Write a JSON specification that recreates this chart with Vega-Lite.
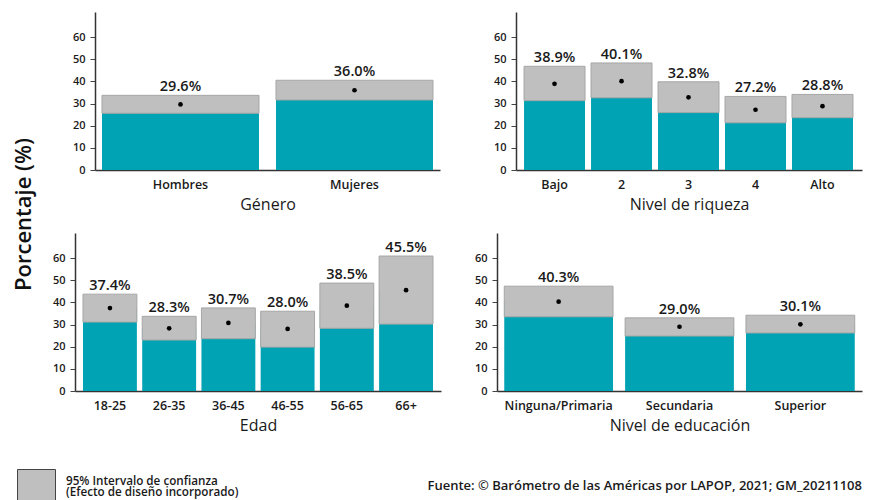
{
  "$schema": "https://vega.github.io/schema/vega-lite/v6.json",
  "background": "white",
  "padding": {"left": 12, "top": 12, "right": 6, "bottom": 0},
  "bounds": "flush",
  "align": "none",
  "columns": 2,
  "spacing": {"row": 63, "column": 56},
  "config": {
    "font": "Open Sans",
    "view": {"stroke": null},
    "axis": {"grid": false, "domainColor": "#333333", "domainWidth": 1.5, "labelColor": "#1a1a1a", "titleColor": "#1a1a1a"},
    "axisX": {"labelAngle": 0, "ticks": false, "tickSize": 0, "labelFontSize": 12.5, "labelFontWeight": 600, "labelPadding": 8, "titleFontSize": 16, "titleFontWeight": "normal", "titlePadding": 6},
    "axisY": {"tickSize": 5, "tickColor": "#444444", "labelFontSize": 11, "labelFontWeight": 600, "labelPadding": 5}
  },
  "datasets": {
    "d": [
      {"panel": "gen", "cat": "Hombres", "est": 29.6, "lo": 25.6, "hi": 33.7},
      {"panel": "gen", "cat": "Mujeres", "est": 36.0, "lo": 31.6, "hi": 40.5},
      {"panel": "riq", "cat": "Bajo", "est": 38.9, "lo": 31.3, "hi": 46.8},
      {"panel": "riq", "cat": "2", "est": 40.1, "lo": 32.6, "hi": 48.3},
      {"panel": "riq", "cat": "3", "est": 32.8, "lo": 25.9, "hi": 39.8},
      {"panel": "riq", "cat": "4", "est": 27.2, "lo": 21.3, "hi": 33.2},
      {"panel": "riq", "cat": "Alto", "est": 28.8, "lo": 23.6, "hi": 34.1},
      {"panel": "edad", "cat": "18-25", "est": 37.4, "lo": 31.1, "hi": 43.7},
      {"panel": "edad", "cat": "26-35", "est": 28.3, "lo": 23.0, "hi": 33.7},
      {"panel": "edad", "cat": "36-45", "est": 30.7, "lo": 23.6, "hi": 37.5},
      {"panel": "edad", "cat": "46-55", "est": 28.0, "lo": 19.8, "hi": 36.0},
      {"panel": "edad", "cat": "56-65", "est": 38.5, "lo": 28.3, "hi": 48.7},
      {"panel": "edad", "cat": "66+", "est": 45.5, "lo": 30.2, "hi": 60.9},
      {"panel": "edu", "cat": "Ninguna/Primaria", "est": 40.3, "lo": 33.5, "hi": 47.3},
      {"panel": "edu", "cat": "Secundaria", "est": 29.0, "lo": 24.8, "hi": 33.0},
      {"panel": "edu", "cat": "Superior", "est": 30.1, "lo": 26.2, "hi": 34.2}
    ]
  },
  "concat": [
    {
      "width": 365, "height": 158,
      "data": {"name": "d"},
      "transform": [{"filter": "datum.panel === 'gen'"}],
      "encoding": {"x": {"field": "cat", "type": "nominal", "sort": null, "title": "Género", "scale": {"paddingInner": 0.0977, "paddingOuter": 0.0977, "align": 0.794}, "axis": {"domainDash": [345, 20], "domainDashOffset": 345, "titleX": 192.5}}},
      "layer": [
        {"mark": {"type": "bar", "color": "#00A3B3"}, "encoding": {"y": {"field": "est", "type": "quantitative", "title": "Porcentaje (%)", "scale": {"domain": [0, 71.3], "nice": false}, "axis": {"values": [0, 10, 20, 30, 40, 50, 60], "offset": -20, "titleX": -72, "titleY": 202, "titleAngle": -90, "titleAlign": "center", "titleBaseline": "middle", "titleFontSize": 22, "titleFontWeight": 600, "titleColor": "#111111"}}}},
        {"mark": {"type": "bar", "stroke": "#A6A6A6", "strokeWidth": 1, "opacity": 1}, "encoding": {"y": {"field": "lo", "type": "quantitative", "title": "Porcentaje (%)", "axis": {"values": [0, 10, 20, 30, 40, 50, 60], "offset": -20, "titleX": -72, "titleY": 202, "titleAngle": -90, "titleAlign": "center", "titleBaseline": "middle", "titleFontSize": 22, "titleFontWeight": 600, "titleColor": "#111111"}}, "y2": {"field": "hi"},
          "color": {"datum": "ci", "scale": {"range": ["#BFBFBF"]}, "legend": {"orient": "none", "legendX": -59, "legendY": 448, "title": null, "padding": 0, "symbolType": "M-0.95,-0.55H0.95V1.2H-0.95Z", "symbolSize": 1600, "symbolStrokeColor": "#444444", "symbolStrokeWidth": 1, "symbolFillColor": "#BFBFBF", "symbolOpacity": 1, "labelOffset": 9, "labelFontSize": 11.7, "labelFontWeight": 600, "labelColor": "#1a1a1a", "labelLimit": 400, "labelExpr": "['95% Intervalo de confianza', '(Efecto de diseño incorporado)']", "encode": {"labels": {"update": {"lineHeight": {"value": 11}}}}}}}},
        {"mark": {"type": "point", "filled": true, "color": "black", "size": 22, "opacity": 1}, "encoding": {"y": {"field": "est", "type": "quantitative", "title": "Porcentaje (%)", "axis": {"values": [0, 10, 20, 30, 40, 50, 60], "offset": -20, "titleX": -72, "titleY": 202, "titleAngle": -90, "titleAlign": "center", "titleBaseline": "middle", "titleFontSize": 22, "titleFontWeight": 600, "titleColor": "#111111"}}}},
        {"mark": {"type": "text", "baseline": "alphabetic", "dy": -4, "fontSize": 14.5, "fontWeight": 600, "color": "#1a1a1a", "text": {"expr": "format(datum.est, '.1f') + '%'"}}, "encoding": {"y": {"field": "hi", "type": "quantitative", "title": "Porcentaje (%)", "axis": {"values": [0, 10, 20, 30, 40, 50, 60], "offset": -20, "titleX": -72, "titleY": 202, "titleAngle": -90, "titleAlign": "center", "titleBaseline": "middle", "titleFontSize": 22, "titleFontWeight": 600, "titleColor": "#111111"}}}}
      ]
    },
    {
      "width": 365, "height": 158,
      "data": {"name": "d"},
      "transform": [{"filter": "datum.panel === 'riq'"}],
      "encoding": {"x": {"field": "cat", "type": "nominal", "sort": null, "title": "Nivel de riqueza", "scale": {"paddingInner": 0.0896, "paddingOuter": 0.269, "align": 0.75}, "axis": {"domainDash": [346, 19], "domainDashOffset": 346, "titleX": 192}}},
      "layer": [
        {"mark": {"type": "bar", "color": "#00A3B3"}, "encoding": {"y": {"field": "est", "type": "quantitative", "title": null, "scale": {"domain": [0, 71.3], "nice": false}, "axis": {"values": [0, 10, 20, 30, 40, 50, 60], "offset": -19}}}},
        {"mark": {"type": "bar", "color": "#BFBFBF", "stroke": "#A6A6A6", "strokeWidth": 1}, "encoding": {"y": {"field": "lo", "type": "quantitative", "title": null, "axis": {"values": [0, 10, 20, 30, 40, 50, 60], "offset": -19}}, "y2": {"field": "hi"}}},
        {"mark": {"type": "point", "filled": true, "color": "black", "size": 22, "opacity": 1}, "encoding": {"y": {"field": "est", "type": "quantitative", "title": null, "axis": {"values": [0, 10, 20, 30, 40, 50, 60], "offset": -19}}}},
        {"mark": {"type": "text", "baseline": "alphabetic", "dy": -4, "fontSize": 14.5, "fontWeight": 600, "color": "#1a1a1a", "text": {"expr": "format(datum.est, '.1f') + '%'"}}, "encoding": {"y": {"field": "hi", "type": "quantitative", "title": null, "axis": {"values": [0, 10, 20, 30, 40, 50, 60], "offset": -19}}}}
      ]
    },
    {
      "width": 366, "height": 158,
      "data": {"name": "d"},
      "transform": [{"filter": "datum.panel === 'edad'"}],
      "encoding": {"x": {"field": "cat", "type": "nominal", "sort": null, "title": "Edad", "scale": {"paddingInner": 0.09, "paddingOuter": 0.135}}},
      "layer": [
        {"mark": {"type": "bar", "color": "#00A3B3"}, "encoding": {"y": {"field": "est", "type": "quantitative", "title": null, "scale": {"domain": [0, 71.3], "nice": false}, "axis": {"values": [0, 10, 20, 30, 40, 50, 60]}}}},
        {"mark": {"type": "bar", "color": "#BFBFBF", "stroke": "#A6A6A6", "strokeWidth": 1}, "encoding": {"y": {"field": "lo", "type": "quantitative", "title": null, "axis": {"values": [0, 10, 20, 30, 40, 50, 60]}}, "y2": {"field": "hi"}}},
        {"mark": {"type": "point", "filled": true, "color": "black", "size": 22, "opacity": 1}, "encoding": {"y": {"field": "est", "type": "quantitative", "title": null, "axis": {"values": [0, 10, 20, 30, 40, 50, 60]}}}},
        {"mark": {"type": "text", "baseline": "alphabetic", "dy": -4, "fontSize": 14.5, "fontWeight": 600, "color": "#1a1a1a", "text": {"expr": "format(datum.est, '.1f') + '%'"}}, "encoding": {"y": {"field": "hi", "type": "quantitative", "title": null, "axis": {"values": [0, 10, 20, 30, 40, 50, 60]}}}}
      ]
    },
    {
      "width": 365, "height": 158,
      "data": {"name": "d"},
      "transform": [{"filter": "datum.panel === 'edu'"}],
      "title": {"text": "Fuente: © Barómetro de las Américas por LAPOP, 2021; GM_20211108", "orient": "bottom", "anchor": "end", "frame": "group", "align": "right", "fontSize": 13, "fontWeight": 600, "color": "#1a1a1a", "offset": 46},
      "encoding": {"x": {"field": "cat", "type": "nominal", "sort": null, "title": "Nivel de educación", "scale": {"paddingInner": 0.1, "paddingOuter": 0.06}}},
      "layer": [
        {"mark": {"type": "bar", "color": "#00A3B3"}, "encoding": {"y": {"field": "est", "type": "quantitative", "title": null, "scale": {"domain": [0, 71.3], "nice": false}, "axis": {"values": [0, 10, 20, 30, 40, 50, 60]}}}},
        {"mark": {"type": "bar", "color": "#BFBFBF", "stroke": "#A6A6A6", "strokeWidth": 1}, "encoding": {"y": {"field": "lo", "type": "quantitative", "title": null, "axis": {"values": [0, 10, 20, 30, 40, 50, 60]}}, "y2": {"field": "hi"}}},
        {"mark": {"type": "point", "filled": true, "color": "black", "size": 22, "opacity": 1}, "encoding": {"y": {"field": "est", "type": "quantitative", "title": null, "axis": {"values": [0, 10, 20, 30, 40, 50, 60]}}}},
        {"mark": {"type": "text", "baseline": "alphabetic", "dy": -4, "fontSize": 14.5, "fontWeight": 600, "color": "#1a1a1a", "text": {"expr": "format(datum.est, '.1f') + '%'"}}, "encoding": {"y": {"field": "hi", "type": "quantitative", "title": null, "axis": {"values": [0, 10, 20, 30, 40, 50, 60]}}}}
      ]
    }
  ]
}
